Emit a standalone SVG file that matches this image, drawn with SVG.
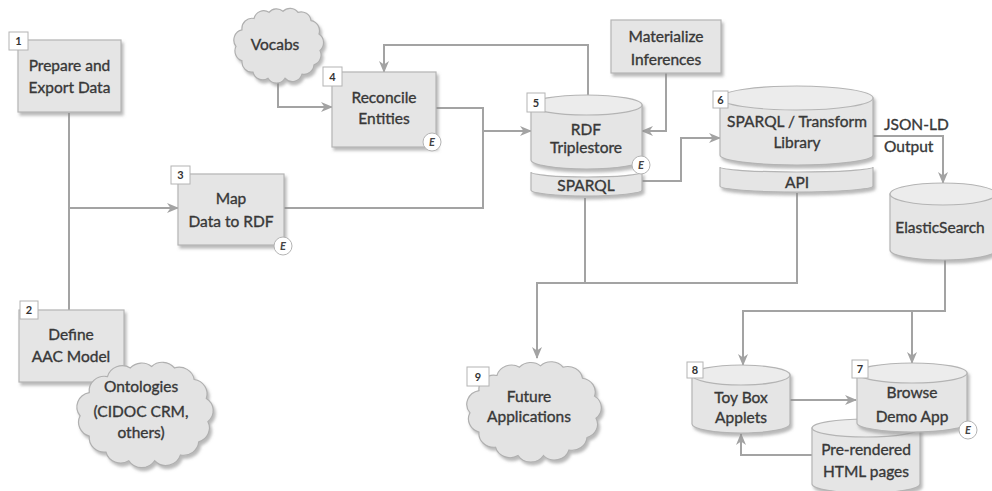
<svg xmlns="http://www.w3.org/2000/svg" width="992" height="491" viewBox="0 0 992 491">
  <defs>
    <style>
      .box { fill: #e5e5e5; stroke: #b4b4b4; stroke-width: 1.2; }
      .cyl { fill: #e5e5e5; stroke: #b4b4b4; stroke-width: 1.2; }
      .cyltop { fill: #ececec; stroke: #b4b4b4; stroke-width: 1.2; }
      .cloud { fill: #e3e3e3; stroke: #b0b0b0; }
      .num { fill: #ffffff; stroke: #b4b4b4; stroke-width: 1; }
      .numt { font-family: "Lato", "Liberation Sans", sans-serif; font-size: 11px; font-weight: bold; fill: #333; text-anchor: middle; }
      .badge { fill: #ffffff; stroke: #b4b4b4; stroke-width: 1; }
      .badget { font-family: "Lato", "Liberation Sans", sans-serif; font-size: 11px; font-style: italic; font-weight: bold; fill: #444; text-anchor: middle; }
      .lbl { font-family: "Lato", "Liberation Sans", sans-serif; font-size: 15.5px; fill: #383838; stroke: #383838; stroke-width: 0.35; text-anchor: middle; }
      .lbls { font-family: "Lato", "Liberation Sans", sans-serif; font-size: 15.5px; fill: #383838; stroke: #383838; stroke-width: 0.35; text-anchor: start; }
      .wire { fill: none; stroke: #a3a3a3; stroke-width: 2; }
    </style>
    <marker id="arr" viewBox="0 0 12 10" refX="11" refY="5" markerWidth="12" markerHeight="10" markerUnits="userSpaceOnUse" orient="auto">
      <path d="M0,0 L12,5 L0,10 L3.5,5 Z" fill="#a3a3a3"/>
    </marker>
    <filter id="sh" x="-10%" y="-10%" width="130%" height="130%">
      <feDropShadow dx="2" dy="3" stdDeviation="1.4" flood-color="#8a8a8a" flood-opacity="0.6"/>
    </filter>
    <!-- puffy cloud outline in a 100x80 frame, scaled per use -->
    <path id="cloudShape" d="M14,58 A10,10 0 0 1 8,44 A10,10 0 0 1 14,28 A10,10 0 0 1 26,17 A10,10 0 0 1 41,11 A10,10 0 0 1 55,10 A10,10 0 0 1 70,11 A10,10 0 0 1 83,19 A10,10 0 0 1 91,32 A10,10 0 0 1 92,48 A10,10 0 0 1 86,62 A10,10 0 0 1 74,71 A10,10 0 0 1 57,75 A10,10 0 0 1 40,75 A10,10 0 0 1 25,69 A10,10 0 0 1 14,58 Z"/>
  </defs>

  <rect width="992" height="491" fill="#ffffff"/>

  <!-- connectors -->
  <g id="connectors">
    <path class="wire" d="M69,113 V310"/>
    <path class="wire" d="M69,208 H178" marker-end="url(#arr)"/>
    <path class="wire" d="M278,83 V107 H332" marker-end="url(#arr)"/>
    <path class="wire" d="M284,208 H483 V108 H436"/>
    <path class="wire" d="M483,131 H531" marker-end="url(#arr)"/>
    <path class="wire" d="M588,95 V45 H384 V72" marker-end="url(#arr)"/>
    <path class="wire" d="M666,73 V131 H642" marker-end="url(#arr)"/>
    <path class="wire" d="M642,181 H681 V138 H720" marker-end="url(#arr)"/>
    <path class="wire" d="M873,136 H943 V183" marker-end="url(#arr)"/>
    <path class="wire" d="M945,260 V311 H743 V365" marker-end="url(#arr)"/>
    <path class="wire" d="M912,311 V363" marker-end="url(#arr)"/>
    <path class="wire" d="M797,193 V283 H537 V358" marker-end="url(#arr)"/>
    <path class="wire" d="M585,198 V283"/>
    <path class="wire" d="M790,400 H856" marker-end="url(#arr)"/>
    <path class="wire" d="M812,455 H741 V434" marker-end="url(#arr)"/>
  </g>

  <!-- 1 Prepare and Export Data -->
  <g id="n1">
    <rect class="box" x="18" y="40" width="103" height="72" filter="url(#sh)"/>
    <rect class="num" x="9" y="32" width="19" height="18"/>
    <text class="numt" x="18.5" y="45">1</text>
    <text class="lbl" x="69.5" y="71">Prepare and</text>
    <text class="lbl" x="69.5" y="93">Export Data</text>
  </g>

  <!-- 2 Define AAC Model -->
  <g id="n2">
    <rect class="box" x="19" y="310" width="105" height="72" filter="url(#sh)"/>
    <rect class="num" x="20" y="301" width="18" height="18"/>
    <text class="numt" x="29" y="314">2</text>
    <text class="lbl" x="71" y="340">Define</text>
    <text class="lbl" x="71" y="362">AAC Model</text>
  </g>

  <!-- Ontologies cloud -->
  <g id="ontologies">
    <g filter="url(#sh)">
      <use href="#cloudShape" class="cloud" transform="translate(68,352) scale(1.52,1.45)" style="stroke-width:0.8"/>
    </g>
    <text class="lbl" x="141" y="392">Ontologies</text>
    <text class="lbl" x="141" y="417">(CIDOC CRM,</text>
    <text class="lbl" x="141" y="438">others)</text>
  </g>

  <!-- Vocabs cloud -->
  <g id="vocabs">
    <g filter="url(#sh)">
      <use href="#cloudShape" class="cloud" transform="translate(228,1) scale(1.0,1.03)" style="stroke-width:1.2"/>
    </g>
    <text class="lbl" x="275" y="50">Vocabs</text>
  </g>

  <!-- 3 Map Data to RDF -->
  <g id="n3">
    <rect class="box" x="178" y="174" width="106" height="71" filter="url(#sh)"/>
    <rect class="num" x="171" y="166" width="19" height="18"/>
    <text class="numt" x="180.5" y="179">3</text>
    <text class="lbl" x="231" y="204">Map</text>
    <text class="lbl" x="231" y="227">Data to RDF</text>
    <circle class="badge" cx="283" cy="246" r="9"/>
    <text class="badget" x="283" y="250">E</text>
  </g>

  <!-- 4 Reconcile Entities -->
  <g id="n4">
    <rect class="box" x="332" y="72" width="104" height="75" filter="url(#sh)"/>
    <rect class="num" x="323" y="67" width="19" height="19"/>
    <text class="numt" x="332.5" y="80.5">4</text>
    <text class="lbl" x="384" y="103">Reconcile</text>
    <text class="lbl" x="384" y="124">Entities</text>
    <circle class="badge" cx="432" cy="142" r="9"/>
    <text class="badget" x="432" y="146">E</text>
  </g>

  <!-- Materialize Inferences -->
  <g id="materialize">
    <rect class="box" x="611" y="20" width="110" height="53" filter="url(#sh)"/>
    <text class="lbl" x="666" y="42">Materialize</text>
    <text class="lbl" x="666" y="65">Inferences</text>
  </g>

  <!-- 5 RDF Triplestore + SPARQL -->
  <g id="n5">
    <g filter="url(#sh)">
      <path class="cyl" d="M531,105 V160 A55.5,9 0 0 0 642,160 V105 Z"/>
      <ellipse class="cyltop" cx="586.5" cy="105" rx="55.5" ry="10"/>
      <path class="cyl" d="M531,172 A55.5,5 0 0 0 642,172 V190 A55.5,6 0 0 1 531,190 Z"/>
    </g>
    <rect class="num" x="527" y="93" width="18" height="19"/>
    <text class="numt" x="536" y="106.5">5</text>
    <text class="lbl" x="586" y="135">RDF</text>
    <text class="lbl" x="586" y="153">Triplestore</text>
    <text class="lbl" x="586" y="191">SPARQL</text>
    <circle class="badge" cx="641" cy="165" r="9"/>
    <text class="badget" x="641" y="169">E</text>
  </g>

  <!-- 6 SPARQL / Transform Library + API -->
  <g id="n6">
    <g filter="url(#sh)">
      <path class="cyl" d="M720,98 V155 A76.5,10 0 0 0 873,155 V98 Z"/>
      <ellipse class="cyltop" cx="796.5" cy="98" rx="76.5" ry="12"/>
      <path class="cyl" d="M720,167 A76.5,5 0 0 0 873,167 V186 A76.5,6 0 0 1 720,186 Z"/>
    </g>
    <rect class="num" x="713" y="91" width="15" height="17"/>
    <text class="numt" x="720.5" y="103.5">6</text>
    <text class="lbl" x="797" y="127">SPARQL / Transform</text>
    <text class="lbl" x="797" y="148">Library</text>
    <text class="lbl" x="797" y="188">API</text>
  </g>

  <!-- JSON-LD output label -->
  <g id="jsonld">
    <text class="lbls" x="884" y="130">JSON-LD</text>
    <text class="lbls" x="884" y="152">Output</text>
  </g>

  <!-- ElasticSearch -->
  <g id="elasticsearch">
    <g filter="url(#sh)">
      <path class="cyl" d="M890,194 V250 A53,10 0 0 0 996,250 V194 Z"/>
      <ellipse class="cyltop" cx="943" cy="194" rx="53" ry="11"/>
    </g>
    <text class="lbl" x="940" y="233">ElasticSearch</text>
  </g>

  <!-- 9 Future Applications -->
  <g id="n9">
    <g filter="url(#sh)">
      <use href="#cloudShape" class="cloud" transform="translate(458,352) scale(1.5,1.38)" style="stroke-width:0.8"/>
    </g>
    <rect class="num" x="467" y="367" width="22" height="19"/>
    <text class="numt" x="478" y="380.5">9</text>
    <text class="lbl" x="529" y="402">Future</text>
    <text class="lbl" x="529" y="422">Applications</text>
  </g>

  <!-- 8 Toy Box Applets -->
  <g id="n8">
    <g filter="url(#sh)">
      <path class="cyl" d="M692,375 V424 A49,9 0 0 0 790,424 V375 Z"/>
      <ellipse class="cyltop" cx="741" cy="375" rx="49" ry="10"/>
    </g>
    <rect class="num" x="687" y="362" width="16" height="16"/>
    <text class="numt" x="695" y="374">8</text>
    <text class="lbl" x="741" y="403">Toy Box</text>
    <text class="lbl" x="741" y="423">Applets</text>
  </g>

  <!-- Pre-rendered HTML pages -->
  <g id="prerendered">
    <g filter="url(#sh)">
      <path class="cyl" d="M812,428 V484 A54,9 0 0 0 920,484 V428 Z"/>
      <ellipse class="cyltop" cx="866" cy="428" rx="54" ry="9"/>
    </g>
    <text class="lbl" x="866" y="455">Pre-rendered</text>
    <text class="lbl" x="866" y="477">HTML pages</text>
  </g>

  <!-- 7 Browse Demo App -->
  <g id="n7">
    <g filter="url(#sh)">
      <path class="cyl" d="M857,373 V423 A55,9 0 0 0 967,423 V373 Z"/>
      <ellipse class="cyltop" cx="912" cy="373" rx="55" ry="10"/>
    </g>
    <rect class="num" x="852" y="360" width="16" height="18"/>
    <text class="numt" x="860" y="373">7</text>
    <text class="lbl" x="912" y="398">Browse</text>
    <text class="lbl" x="912" y="422">Demo App</text>
    <circle class="badge" cx="968" cy="430" r="9"/>
    <text class="badget" x="968" y="434">E</text>
  </g>
</svg>
